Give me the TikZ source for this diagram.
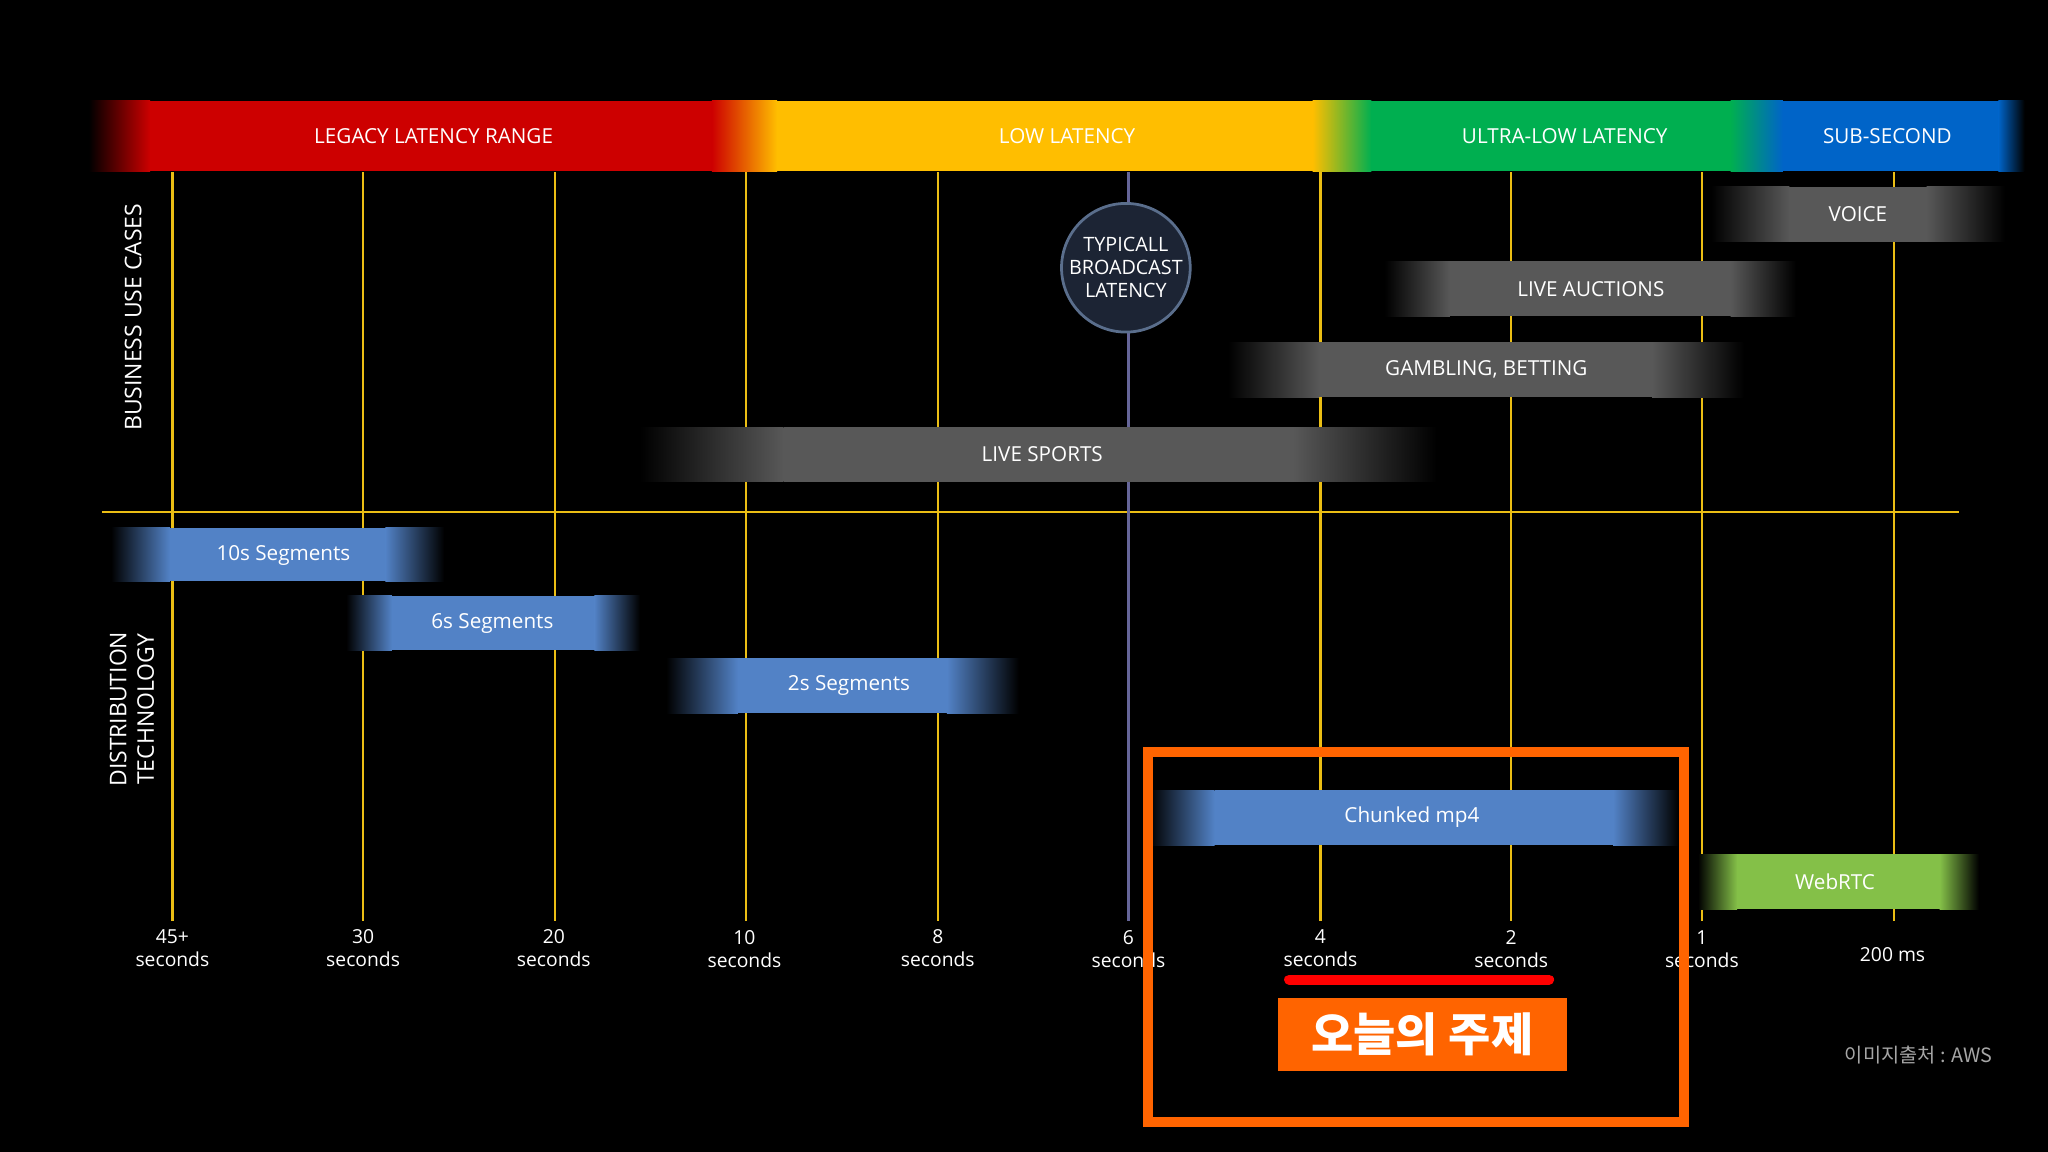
\documentclass[tikz,border=0pt]{standalone}
\usepackage{fontspec}
\setmainfont{Open Sans}
\newfontfamily\kr{Noto Sans CJK KR}
\definecolor{gbar}{RGB}{88,88,88}
\definecolor{bbar}{RGB}{82,130,198}
\definecolor{wgreen}{RGB}{132,192,72}
\definecolor{lred}{RGB}{205,0,0}
\definecolor{lyel}{RGB}{255,190,0}
\definecolor{lgreen}{RGB}{0,175,80}
\definecolor{lblue}{RGB}{0,100,200}
\definecolor{ylin}{RGB}{235,190,20}
\definecolor{oline}{RGB}{255,100,0}
\newcommand{\fadebar}[7]{%
 \fill[left color=black,right color=#5] (#1,#3) rectangle (#1+#6,#4);
 \fill[left color=#5,right color=black] (#2-#6,#3) rectangle (#2,#4);
 \node[fill=#5,minimum width={(#2-#1-2*#6)*0.01cm},minimum height={(#4-#3)*0.01cm},inner sep=0,text=white,font=\fontsize{4.5}{5}\selectfont] (#7) at ({(#1+#2)/2},{(#3+#4)/2}) {};}
\begin{document}
\begin{tikzpicture}[x=0.01cm,y=-0.01cm,
 lbl/.style={text=white,font=\fontsize{4.5}{5.5}\selectfont,align=center},
 tick/.style={text=white,font=\fontsize{4.2}{5}\selectfont,align=center,inner sep=0}]
\fill[black] (0,0) rectangle (1568,882);
\useasboundingbox (0,0) rectangle (1568,882);
% top band
\fill[left color=black,right color=lred] (68,77) rectangle (115,131);
\fill[lred] (115,77) rectangle (545,131);
\fill[left color=lred,right color=lyel] (545,77) rectangle (595,131);
\fill[lyel] (595,77) rectangle (1005,131);
\fill[left color=lyel,right color=lgreen] (1005,77) rectangle (1050,131);
\fill[lgreen] (1050,77) rectangle (1325,131);
\fill[left color=lgreen,right color=lblue] (1325,77) rectangle (1365,131);
\fill[lblue] (1365,77) rectangle (1530,131);
\fill[left color=lblue,right color=black] (1530,77) rectangle (1550,131);
\node[lbl] (t1) at (332,104) {LEGACY LATENCY RANGE};
\node[lbl] (t2) at (817,104) {LOW LATENCY};
\node[lbl] (t3) at (1198,104) {ULTRA-LOW LATENCY};
\node[lbl] (t4) at (1445,104) {SUB-SECOND};
% grid
\foreach \x in {132,278,425,571,718,1011,1157,1303,1450}
  \draw[ylin,line width=0.5pt] (\x,132) -- (\x,705);
\draw[ylin,line width=0.5pt] (78,392) -- (1500,392);
\draw[gray!80!blue,line width=0.7pt] (864,132) -- (864,705);
% gray bars
\fadebar{1310}{1535}{143}{185}{gbar}{60}{voice}
\node[lbl] at (voice.center) {VOICE};
\fadebar{1060}{1375}{200}{242}{gbar}{50}{auct}
\node[lbl] at (1218,221) {LIVE AUCTIONS};
\fadebar{940}{1335}{262}{304}{gbar}{70}{gamb}
\node[lbl] at (1138,283) {GAMBLING, BETTING};
\fadebar{490}{1100}{327}{369}{gbar}{110}{sport}
\node[lbl] at (798,348) {LIVE SPORTS};
% circle
\node[circle,fill={rgb,255:red,28;green,36;blue,52},draw={rgb,255:red,90;green,110;blue,140},line width=0.6pt,minimum size=0.98cm,inner sep=0,lbl,font=\fontsize{4.3}{5}\selectfont] (typ) at (862,205) {TYPICALL\\BROADCAST\\LATENCY};
% blue bars
\fadebar{85}{340}{404}{445}{bbar}{45}{s10}
\node[lbl] at (217,425) {10s Segments};
\fadebar{265}{490}{456}{498}{bbar}{35}{s6}
\node[lbl] at (377,477) {6s Segments};
\fadebar{510}{780}{504}{546}{bbar}{55}{s2}
\node[lbl] at (650,525) {2s Segments};
\fadebar{880}{1285}{605}{647}{bbar}{50}{chunk}
\node[lbl] at (1081,626) {Chunked mp4};
\fadebar{1300}{1515}{654}{696}{wgreen}{30}{web}
\node[lbl] at (1405,675) {WebRTC};
% side labels
\node[lbl,rotate=90,font=\fontsize{5}{6}\selectfont] (buc) at (102,243) {BUSINESS USE CASES};
\node[lbl,rotate=90,font=\fontsize{5}{6}\selectfont] (dt) at (101,543) {DISTRIBUTION\\TECHNOLOGY};
% ticks
\node[tick] at (132,726) {45+\\seconds};
\node[tick] at (278,726) {30\\seconds};
\node[tick] at (424,726) {20\\seconds};
\node[tick] at (570,727) {10\\seconds};
\node[tick] at (718,726) {8\\seconds};
\node[tick] at (864,727) {6\\seconds};
\node[tick] at (1011,726) {4\\seconds};
\node[tick] at (1157,727) {2\\seconds};
\node[tick] at (1303,727) {1\\seconds};
\node[tick] at (1449,731) {200 ms};
% highlight
\draw[oline,line width=2.2pt] (879,576) rectangle (1289,859);
\draw[red,line width=2.2pt,line cap=round] (987,750) -- (1186,750);
\node[fill=oline,minimum width=2.21cm,minimum height=0.5cm,text=white,font=\kr\bfseries\fontsize{10}{12}\selectfont] (topic) at (1089,792) {오늘의 주제};
\node[text=gray!70,font=\kr\itshape\fontsize{4.3}{5}\selectfont] (src) at (1469,808) {이미지출처 : AWS};
\end{tikzpicture}
\end{document}
